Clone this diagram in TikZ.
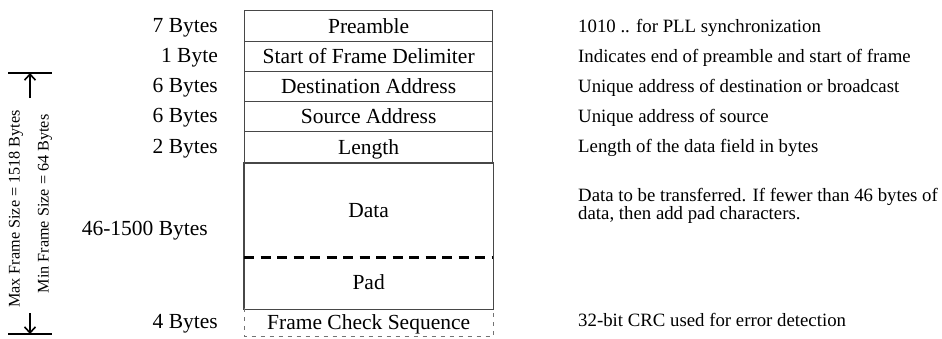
\documentclass[tikz,border=0pt]{standalone}
\usepackage{fontspec}
\setmainfont{Liberation Serif}
\usetikzlibrary{arrows.meta}
\begin{document}
\begin{tikzpicture}[x=1pt,y=-1pt,
  field/.style={draw=black!72, line width=1.3pt, minimum width=248pt, inner sep=0pt,
    anchor=north west, text height=16pt, text depth=2pt,
    font=\fontsize{21.5}{24}\selectfont},
  nobox/.style={field, draw=none},
  sizelbl/.style={anchor=base east, inner sep=0pt, font=\fontsize{21.5}{24}\selectfont},
  desc/.style={anchor=base west, inner sep=0pt, align=left,
    font=\fontsize{18.8}{18}\selectfont},
  vlbl/.style={rotate=90, inner sep=0pt, font=\fontsize{16.2}{18}\selectfont},
  dimline/.style={line width=1.6pt},
  dimarrow/.style={line width=1.6pt, -{Straight Barb[length=6pt,width=11pt,line width=1.6pt]}}
]
\useasboundingbox (0,0) rectangle (942,338);

% frame fields
\node[field, minimum height=31pt] (pre) at (244,10) {Preamble};
\node[field, minimum height=30pt] (sfd) at (244,41) {Start of Frame Delimiter};
\node[field, minimum height=30pt] (da)  at (244,71) {Destination Address};
\node[field, minimum height=30pt] (sa)  at (244,101) {Source Address};
\node[field, minimum height=32pt] (len) at (244,131) {Length};
\node[nobox, minimum height=93pt] (data) at (244,163) {Data};
\node[nobox, minimum height=52pt] (pad)  at (244,256) {Pad};
\draw[draw=black!72, line width=1.3pt] (data.north west) rectangle (pad.south east);
\draw[line width=2.6pt, dash pattern=on 10pt off 6.5pt] (data.south west) -- (data.south east);
\node[nobox, minimum height=27pt] (fcs) at (244,308) {Frame Check Sequence};
\draw[draw=black!55, line width=1pt, dash pattern=on 4pt off 5pt]
  (fcs.north west) -- (fcs.south west) -- (fcs.south east) -- (fcs.north east);

% byte counts
\node[sizelbl] (b1) at (218,32) {7 Bytes};
\node[sizelbl] (b2) at (218,62) {1 Byte};
\node[sizelbl] (b3) at (218,92) {6 Bytes};
\node[sizelbl] (b4) at (218,122) {6 Bytes};
\node[sizelbl] (b5) at (218,153) {2 Bytes};
\node[sizelbl] (b6) at (208,235) {46-1500 Bytes};
\node[sizelbl] (b7) at (218,328) {4 Bytes};

% descriptions
\node[desc] (d1) at (578,32) {1010 .. for PLL synchronization};
\node[desc] (d2) at (578,62) {Indicates end of preamble and start of frame};
\node[desc] (d3) at (578,92) {Unique address of destination or broadcast};
\node[desc] (d4) at (578,122) {Unique address of source};
\node[desc] (d5) at (578,152) {Length of the data field in bytes};
\node[desc] (d6) at (578,219) {Data to be transferred. If fewer than 46 bytes of\\data, then add pad characters.};
\node[desc] (d7) at (578,326) {32-bit CRC used for error detection};

% frame size dimension
\coordinate (tl) at (8,73);
\coordinate (tr) at (52,73);
\coordinate (tt) at (30,73);
\coordinate (ts) at (30,98);
\coordinate (bl) at (8,334);
\coordinate (br) at (52,334);
\coordinate (bt) at (30,334);
\coordinate (bs) at (30,313);
\draw[dimline] (tl) -- (tr);
\draw[dimline] (bl) -- (br);
\draw[dimarrow] (ts) -- (tt);
\draw[dimarrow] (bs) -- (bt);
\node[vlbl] (maxl) at (16,209) {Max Frame Size = 1518 Bytes};
\node[vlbl] (minl) at (45,204) {Min Frame Size = 64 Bytes};
\end{tikzpicture}
\end{document}
